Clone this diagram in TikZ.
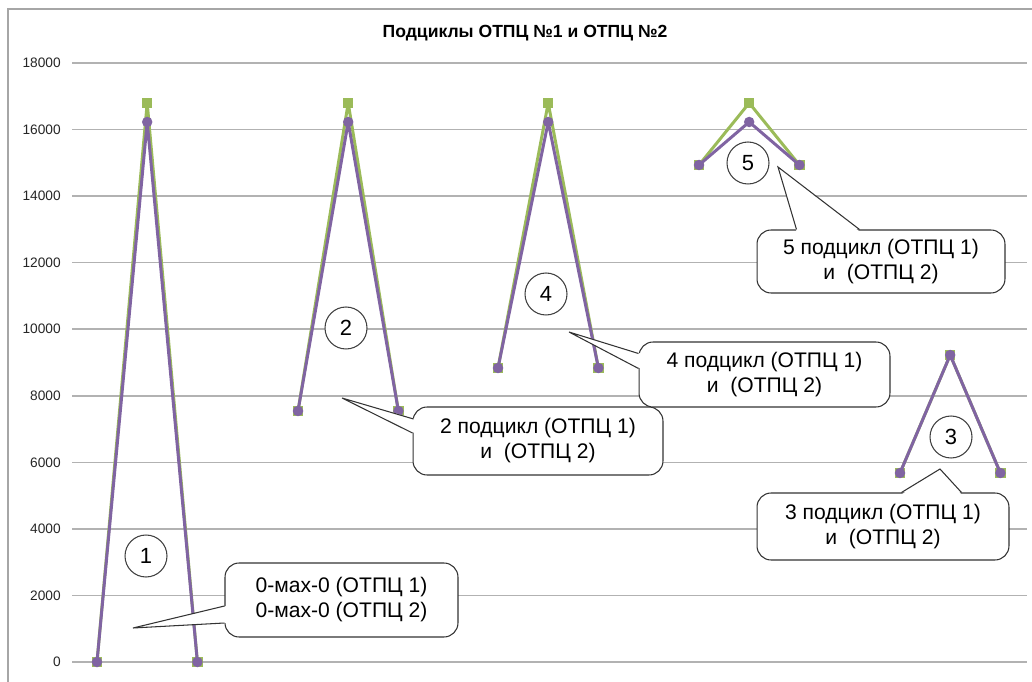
\documentclass[tikz,border=0pt]{standalone}
\usepackage[]{fontspec}
\setmainfont{Liberation Sans}
\usepackage[]{xcolor}
\usetikzlibrary{calc}
\definecolor{sergreen}{HTML}{9BBB59}
\definecolor{serpurple}{HTML}{8064A2}
\tikzset{gridline/.style = {draw=black!30, line width=0.9pt},
         frameline/.style = {draw=black!35, line width=0.9pt},
         ylab/.style = {anchor=east, inner sep=0, text=black!85, font=\fontsize{7.8}{9}\selectfont},
         greenline/.style = {draw=sergreen, line width=1.7pt, line join=round},
         purpleline/.style = {draw=serpurple, line width=1.7pt, line join=round},
         sqmark/.style = {fill=sergreen, inner sep=0, minimum size=0.21cm},
         dotmark/.style = {fill=serpurple, circle, inner sep=0, minimum size=0.21cm},
         numcirc/.style = {draw=black!75, fill=white, circle, line width=0.6pt, inner sep=0, minimum size=0.84cm, font=\fontsize{12.5}{14}\selectfont},
         callbox/.style = {draw=black!80, fill=white, line width=0.6pt, rounded corners=8pt, align=center, inner sep=0, font=\fontsize{12}{14.2}\selectfont},
         wedgeline/.style = {draw=black!80, line width=0.6pt, line join=miter}}

\begin{document}
\begin{tikzpicture}[x=0.02cm, y=-0.02cm]
            \useasboundingbox (0,0) rectangle (1032,682);
            % chart frame
            \draw [frameline] (8,700) -- (8,9) -- (1040,9);
            \node [font=\bfseries\fontsize{10}{12}\selectfont] (title) at (525,33) {Подциклы ОТПЦ №1 и ОТПЦ №2};
            % grid and axis labels
            \foreach \v [count=\i from 0] in {0,2000,4000,6000,8000,10000,12000,14000,16000,18000} {
                \draw [gridline] (72,662-\i*66.56) -- (1027,662-\i*66.56);
                \node [ylab] (y\i) at (61,662-\i*66.56) {\v};
            }
            % series 1
            \foreach \xa/\ylo/\yhi in {97/662/103, 298/411/103, 498/368/103, 699/165/103, 900/473/355}
                \draw [greenline] (\xa,\ylo) -- (\xa+50.2,\yhi) -- (\xa+100.4,\ylo);
            \foreach \xa/\ylo/\yhi in {97/662/103, 298/411/103, 498/368/103, 699/165/103, 900/473/355} {
                \node [sqmark] at (\xa,\ylo) {};
                \node [sqmark] at (\xa+50.2,\yhi) {};
                \node [sqmark] at (\xa+100.4,\ylo) {};
            }
            % series 2
            \foreach \xa/\ylo/\yhi in {97/662/122, 298/411/122, 498/368/122, 699/165/122, 900/473/355}
                \draw [purpleline] (\xa,\ylo) -- (\xa+50.2,\yhi) -- (\xa+100.4,\ylo);
            \foreach \xa/\ylo/\yhi in {97/662/122, 298/411/122, 498/368/122, 699/165/122, 900/473/355} {
                \node [dotmark] at (\xa,\ylo) {};
                \node [dotmark] at (\xa+50.2,\yhi) {};
                \node [dotmark] at (\xa+100.4,\ylo) {};
            }
            % numbered circles
            \node [numcirc] (n1) at (146,556) {1};
            \node [numcirc] (n2) at (346,328) {2};
            \node [numcirc] (n4) at (546,294) {4};
            \node [numcirc] (n5) at (748,163) {5};
            \node [numcirc] (n3) at (951,437) {3};
            % callouts
            \node [callbox, minimum width=4.66cm, minimum height=1.48cm] (c0) at (341.5,600) {0-мах-0 (ОТПЦ 1)\\0-мах-0 (ОТПЦ 2)};
            \node [callbox, minimum width=5.0cm, minimum height=1.36cm] (c2) at (538,441) {2 подцикл (ОТПЦ 1)\\и\ \ (ОТПЦ 2)};
            \node [callbox, minimum width=5.02cm, minimum height=1.3cm] (c4) at (764.5,374.5) {4 подцикл (ОТПЦ 1)\\и\ \ (ОТПЦ 2)};
            \node [callbox, minimum width=4.96cm, minimum height=1.26cm] (c5) at (881,261.5) {5 подцикл (ОТПЦ 1)\\и\ \ (ОТПЦ 2)};
            \node [callbox, minimum width=5.04cm, minimum height=1.34cm] (c3) at (883,526.5) {3 подцикл (ОТПЦ 1)\\и\ \ (ОТПЦ 2)};
            % callout wedges
            \coordinate (t0) at (133,628);
            \coordinate (t2) at (342,398);
            \coordinate (t4) at (569,332);
            \coordinate (t5) at (778,167);
            \coordinate (t3) at (940,469);
            \fill [white] ($(c0.west)+(2,6)$) -- (t0) -- ($(c0.west)+(2,23)$) -- cycle;
            \draw [wedgeline] ($(c0.west)+(0,6)$) -- (t0) -- ($(c0.west)+(0,23)$);
            \fill [white] ($(c2.west)+(3,-22)$) -- (t2) -- ($(c2.west)+(2,-8)$) -- cycle;
            \draw [wedgeline] ($(c2.west)+(1,-22)$) -- (t2) -- ($(c2.west)+(0,-8)$);
            \fill [white] ($(c4.west)+(2,-21)$) -- (t4) -- ($(c4.west)+(2,-6)$) -- cycle;
            \draw [wedgeline] ($(c4.west)+(0,-21)$) -- (t4) -- ($(c4.west)+(0,-6)$);
            \fill [white] ($(c5.north west)+(40,2)$) -- (t5) -- ($(c5.north west)+(103,2)$) -- cycle;
            \draw [wedgeline] ($(c5.north west)+(40,0)$) -- (t5) -- ($(c5.north west)+(103,0)$);
            \fill [white] ($(c3.north west)+(145,2)$) -- (t3) -- ($(c3.north west)+(205,2)$) -- cycle;
            \draw [wedgeline] ($(c3.north west)+(145,0)$) -- (t3) -- ($(c3.north west)+(205,0)$);
        \end{tikzpicture}
\end{document}
